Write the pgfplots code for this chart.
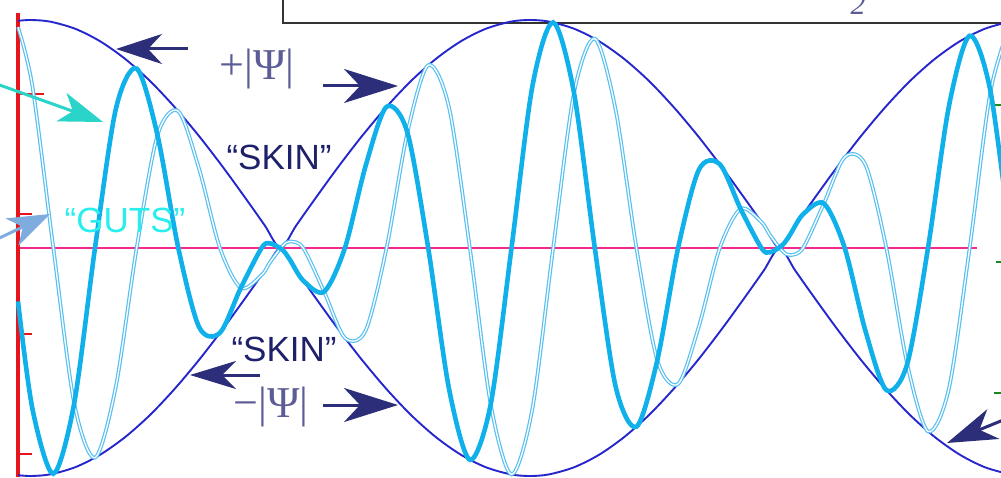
\documentclass[border=0pt]{standalone}
\usepackage{pgfplots}
\pgfplotsset{compat=1.18}
\usepackage{pgfplotstable}
\usepackage{fontspec}
\setsansfont{Liberation Sans}
\newfontfamily\psifont{Liberation Serif}
\usetikzlibrary{arrows.meta}

\definecolor{skin}{RGB}{38,38,205}
\definecolor{realpart}{RGB}{16,176,234}
\definecolor{imagpart}{RGB}{86,192,240}
\definecolor{axisred}{RGB}{232,20,28}
\definecolor{zeroline}{RGB}{245,40,140}
\definecolor{navy}{RGB}{44,46,122}
\definecolor{labelnavy}{RGB}{30,32,105}
\definecolor{psigray}{RGB}{92,92,150}
\definecolor{gutscyan}{RGB}{40,238,238}
\definecolor{pointer}{RGB}{42,212,200}
\definecolor{pointerblue}{RGB}{126,172,222}
\definecolor{tickgreen}{RGB}{20,140,30}

% envelope |Psi| (upper and lower "skin")
\pgfplotstableread{
x      hi     lo
18     227.2  -227.2
31     228.0  -228.0
50     226.4  -226.4
75     219.3  -219.3
100    206.8  -206.8
125    189.2  -189.2
150    167.0  -167.0
175    140.5  -140.5
200    110.7  -110.7
225    78.1   -78.1
250    43.5   -43.5
265    22.2   -22.2
280.5  0      0
296    22.2   -22.2
311    43.5   -43.5
336    78.1   -78.1
361    110.7  -110.7
386    140.5  -140.5
411    167.0  -167.0
436    189.2  -189.2
461    206.8  -206.8
486    219.3  -219.3
511    226.4  -226.4
530    228.0  -228.0
549    226.4  -226.4
574    219.3  -219.3
599    206.8  -206.8
624    189.2  -189.2
649    167.0  -167.0
674    140.5  -140.5
699    110.7  -110.7
724    78.1   -78.1
749    43.5   -43.5
764    22.2   -22.2
779.5  0      0
795    22.2   -22.2
810    43.5   -43.5
835    78.1   -78.1
860    110.7  -110.7
885    140.5  -140.5
910    167.0  -167.0
935    189.2  -189.2
960    206.8  -206.8
985    219.3  -219.3
1010   226.4  -226.4
}\envtable

% real and imaginary parts of Psi ("guts")
\pgfplotstableread{
x        re      im
18       -53.4   220.8
32.5     -161.2  161.2
53.35    -225.7  0
74.2     -155.3  -155.3
95.0     0       -209.7
115.8    138.8   -138.8
136.65   179.4   0
157.5    112.8   112.8
178.3    0       136.8
199.1    -79.1   79.1
219.95   -84.8   0
240.8    -39.9   -39.9
261.6    0       -27.0
270      4.7     -14.3
282.4    -1.9    1.9
290      -11.9   6.5
303.25   -32.6   0
324.1    -43.7   -43.7
344.9    0       -89.9
365.7    82.4    -82.4
386.55   141.2   0
407.4    115.5   115.5
428.2    0       182.8
449.0    -140.7  140.7
469.85   -211.8  0
490.7    -156.3  -156.3
511.5    0       -226.4
532.3    161.2   -161.2
553.15   225.6   0
574.0    155.1   155.1
594.8    0       209.3
615.6    -138.4  138.4
636.45   -178.7  0
657.3    -112.2  -112.2
678.1    0       -135.9
698.9    78.3    -78.3
719.75   83.8    0
740.6    39.1    39.1
761.4    0       26.0
770      -4.3    12.9
782.2    2.7     -2.7
790      13.2    -7.1
803.05   33.7    0
823.9    44.5    44.5
844.7    0       90.9
865.5    -83.1   83.1
886.35   -142.1  0
907.2    -116.0  -116.0
928.0    0       -183.4
948.8    141.1   -141.1
969.65   212.2   0
990.5    156.5   156.5
1011.3   0       226.6
}\wavetable

\begin{document}
\begin{tikzpicture}
\begin{axis}[
  name=ax,
  width=1001pt, height=477pt, scale only axis,
  xmin=0, xmax=1001, ymin=-229, ymax=248,
  hide axis, clip=true,
]
% formula box at the top
\draw[line width=2pt, black!80] (axis cs:283,262) -- (axis cs:283,225) -- (axis cs:1030,225);
\node[anchor=base, text=psigray, font=\psifont\itshape\fontsize{30}{32}\selectfont] at (axis cs:858,233) {2};

% zero line
\addplot[zeroline, line width=2pt, no marks] coordinates {(18,0) (977,0)};

% vertical axis with ticks
\addplot[axisred, line width=4pt, no marks] coordinates {(18,235) (18,-229)};
\draw[axisred, line width=2.2pt] (axis cs:18,154) -- (axis cs:44,154);
\draw[axisred, line width=2.2pt] (axis cs:18,34) -- (axis cs:32,34);
\draw[axisred, line width=2.2pt] (axis cs:18,-86) -- (axis cs:32,-86);
\draw[axisred, line width=2.2pt] (axis cs:18,-206) -- (axis cs:32,-206);

% right-hand ticks
\draw[tickgreen, line width=1.5pt] (axis cs:994,143) -- (axis cs:1001,143);
\draw[tickgreen, line width=1.5pt] (axis cs:996,-14) -- (axis cs:1001,-14);
\draw[tickgreen, line width=1.5pt] (axis cs:994,-145) -- (axis cs:1001,-145);

% envelope +|Psi| and -|Psi|
\addplot[skin, line width=1.9pt, smooth, no marks] table[x=x, y=hi] {\envtable};
\addplot[skin, line width=1.9pt, smooth, no marks] table[x=x, y=lo] {\envtable};

% imaginary part (thin) and real part (thick)
\addplot[imagpart, line width=1.2pt, double=white, double distance=1.3pt, smooth, no marks] table[x=x, y=im] {\wavetable};
\addplot[realpart, line width=4.6pt, smooth, no marks] table[x=x, y=re] {\wavetable};

% labels
\node[text=labelnavy, font=\sffamily\fontsize{35}{40}\selectfont] at (axis cs:279,91) {“SKIN”};
\node[text=labelnavy, font=\sffamily\fontsize{35}{40}\selectfont] at (axis cs:284,-101) {“SKIN”};
\node[text=gutscyan, font=\sffamily\fontsize{35}{40}\selectfont] at (axis cs:125,28) {“GUTS”};
\node[text=psigray, font=\psifont\fontsize{44}{48}\selectfont] at (axis cs:257,179) {+|Ψ|};
\node[text=psigray, font=\psifont\fontsize{44}{48}\selectfont] at (axis cs:271,-159) {−|Ψ|};

% pointers
\draw[navy, line width=3pt, -{Stealth[length=46pt, width=30pt, inset=14pt]}] (axis cs:188,199) -- (axis cs:116,199);
\draw[navy, line width=3pt, -{Stealth[length=54pt, width=34pt, inset=16pt]}] (axis cs:323,162) -- (axis cs:398,162);
\draw[navy, line width=3pt, -{Stealth[length=46pt, width=28pt, inset=14pt]}] (axis cs:260,-127) -- (axis cs:190,-127);
\draw[navy, line width=3pt, -{Stealth[length=54pt, width=34pt, inset=16pt]}] (axis cs:323,-157) -- (axis cs:398,-157);
\draw[navy, line width=3pt, -{Stealth[length=50pt, width=32pt, inset=15pt]}] (axis cs:1040,-157) -- (axis cs:947,-195);
\draw[pointer, line width=3pt, -{Stealth[length=44pt, width=30pt, inset=12pt]}] (axis cs:-20,170) -- (axis cs:103,126);
\draw[pointerblue, line width=3pt, -{Stealth[length=42pt, width=30pt, inset=12pt]}] (axis cs:-30,-4) -- (axis cs:50,34);
\end{axis}
\pgfresetboundingbox
\path[use as bounding box] (ax.south west) rectangle (ax.north east);
\end{tikzpicture}
\end{document}
